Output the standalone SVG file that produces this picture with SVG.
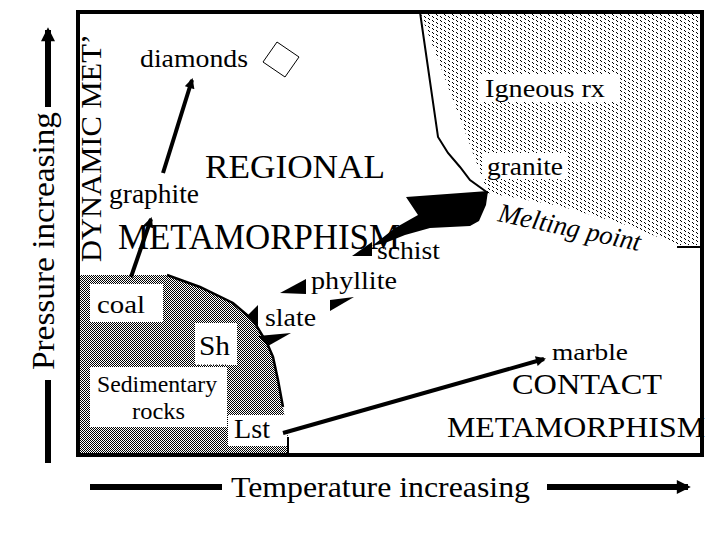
<svg xmlns="http://www.w3.org/2000/svg" width="720" height="540" viewBox="0 0 720 540">
<style>
.ln{stroke:#000;fill:none}
.tri{fill:#000;stroke:none}
.box{fill:#fff;stroke:none}
</style>
<defs>
<pattern id="ign" width="8" height="4" patternUnits="userSpaceOnUse">
<rect width="8" height="4" fill="#fff"/>
<rect x="0" y="0" width="1" height="1" fill="#000"/>
<rect x="1" y="1" width="1" height="1" fill="#000"/>
<rect x="4" y="2" width="1" height="1" fill="#000"/>
<rect x="5" y="3" width="1" height="1" fill="#000"/>
</pattern>
<pattern id="sed" width="2" height="2" patternUnits="userSpaceOnUse">
<rect width="2" height="2" fill="#fff"/>
<rect x="0" y="0" width="1" height="1" fill="#000"/>
<rect x="1" y="1" width="1" height="1" fill="#000"/>
</pattern>
<marker id="ah" viewBox="0 0 10 10" refX="8" refY="5" markerWidth="12" markerHeight="10" markerUnits="userSpaceOnUse" orient="auto">
<path d="M0,0 L10,5 L0,10 z" fill="#000"/>
</marker>
<marker id="ahb" viewBox="0 0 10 10" refX="8" refY="5" markerWidth="16" markerHeight="14" markerUnits="userSpaceOnUse" orient="auto">
<path d="M0,0 L10,5 L0,10 z" fill="#000"/>
</marker>
</defs>
<rect width="720" height="540" fill="#fff"/>

<g id="igneous-region">
<path d="M420,12 L702,12 L702,245 L678,245 L630,226 L560,206 L488,193 Z" fill="url(#ign)"/>
<path class="ln" stroke-width="2" d="M420,12 L423,33 L438,137 L448,153 L460,167 L470,180 L488,193"/>
<rect class="box" x="480" y="74" width="138" height="28"/>
<rect class="box" x="483" y="153" width="84" height="26"/>
</g>

<g id="sedimentary-region">
<path d="M78,275 L167,275 L200,287 L233,303 L253,320 L267,343 L273,357 L278,380 L283,407 L288,437 L288,455 L78,455 Z" fill="url(#sed)"/>
<path class="ln" stroke-width="2.5" d="M167,275 L200,287 L233,303 L253,320 L267,343 L273,357 L278,380 L283,407"/>
<path class="ln" stroke-width="2" d="M288,437 L288,455"/>
<rect class="box" x="90" y="284" width="73" height="38"/>
<rect class="box" x="195" y="323" width="42" height="42"/>
<rect class="box" x="90" y="367" width="137" height="60"/>
<rect class="box" x="228" y="415" width="59" height="31"/>
<path class="ln" stroke-width="1" stroke-dasharray="1 2" d="M195,365 L227,365"/>
</g>

<g id="frame">
<rect x="78" y="12" width="624" height="443" fill="none" stroke="#000" stroke-width="4"/>
<path class="ln" stroke-width="2" d="M677,247 L702,247"/>
</g>

<g id="connectors">
<line class="ln" stroke-width="4" x1="163" y1="173" x2="192" y2="80" marker-end="url(#ah)"/>
<line class="ln" stroke-width="4" x1="131" y1="277" x2="151" y2="219" marker-end="url(#ah)"/>
<line class="ln" stroke-width="4" x1="283" y1="433" x2="544" y2="359" marker-end="url(#ah)"/>
<polygon class="tri" points="280,293 306,279 306,294"/>
<polygon class="tri" points="330,311 330,300 354,297"/>
<polygon class="tri" points="247,316 258,305 258,328"/>
<polygon class="tri" points="258,336 291,333 268,346"/>
<polygon class="tri" points="352,256 372,242 372,256"/>
<polygon class="tri" points="406,197 488,191 486,205 479,221 470,226 430,228 405,235 385,243 372,246 395,228 418,215"/>
<line class="ln" stroke-width="6" x1="90" y1="487" x2="222" y2="487"/>
<line class="ln" stroke-width="6" x1="547" y1="487" x2="688" y2="487" marker-end="url(#ahb)"/>
<line class="ln" stroke-width="6" x1="48" y1="107" x2="48" y2="30" marker-end="url(#ahb)"/>
<line class="ln" stroke-width="6" x1="48" y1="380" x2="48" y2="463"/>
</g>

<g id="diamond">
<polygon points="277,42 299,57 285,77 263,62" fill="#fff" stroke="#000" stroke-width="1"/>
</g>

<g id="labels" font-family="Liberation Serif, serif" fill="#000">
<text x="140" y="67" font-size="25" textLength="108" lengthAdjust="spacingAndGlyphs">diamonds</text>
<text x="485" y="97" font-size="26" textLength="120" lengthAdjust="spacingAndGlyphs">Igneous rx</text>
<text x="205" y="178" font-size="34" textLength="180" lengthAdjust="spacingAndGlyphs">REGIONAL</text>
<text x="487" y="175" font-size="26" textLength="76" lengthAdjust="spacingAndGlyphs">granite</text>
<text x="109" y="203" font-size="27" textLength="90" lengthAdjust="spacingAndGlyphs">graphite</text>
<text x="118" y="249" font-size="35" textLength="282" lengthAdjust="spacingAndGlyphs">METAMORPHISM</text>
<text x="377" y="259" font-size="25" textLength="63" lengthAdjust="spacingAndGlyphs">schist</text>
<text x="311" y="289" font-size="25" textLength="86" lengthAdjust="spacingAndGlyphs">phyllite</text>
<text x="265" y="326" font-size="25" textLength="51" lengthAdjust="spacingAndGlyphs">slate</text>
<text x="97" y="313" font-size="26" textLength="48" lengthAdjust="spacingAndGlyphs">coal</text>
<text x="199" y="355" font-size="28" textLength="31" lengthAdjust="spacingAndGlyphs">Sh</text>
<text x="97" y="392" font-size="23" textLength="120" lengthAdjust="spacingAndGlyphs">Sedimentary</text>
<text x="132" y="419" font-size="23" textLength="53" lengthAdjust="spacingAndGlyphs">rocks</text>
<text x="234" y="438" font-size="27" textLength="36" lengthAdjust="spacingAndGlyphs">Lst</text>
<text x="552" y="360" font-size="24" textLength="76" lengthAdjust="spacingAndGlyphs">marble</text>
<text x="512" y="394" font-size="30" textLength="150" lengthAdjust="spacingAndGlyphs">CONTACT</text>
<text x="447" y="437" font-size="30" textLength="258" lengthAdjust="spacingAndGlyphs">METAMORPHISM</text>
<text x="231" y="497" font-size="30" textLength="299" lengthAdjust="spacingAndGlyphs">Temperature increasing</text>
<text transform="translate(497,221) rotate(12)" font-size="27" font-style="italic" textLength="145" lengthAdjust="spacingAndGlyphs">Melting point</text>
<text transform="translate(54,370) rotate(-90)" font-size="32" textLength="258" lengthAdjust="spacingAndGlyphs">Pressure increasing</text>
<text transform="translate(101,262) rotate(-90)" font-size="30" textLength="228" lengthAdjust="spacingAndGlyphs">DYNAMIC MET’</text>
</g>
</svg>
